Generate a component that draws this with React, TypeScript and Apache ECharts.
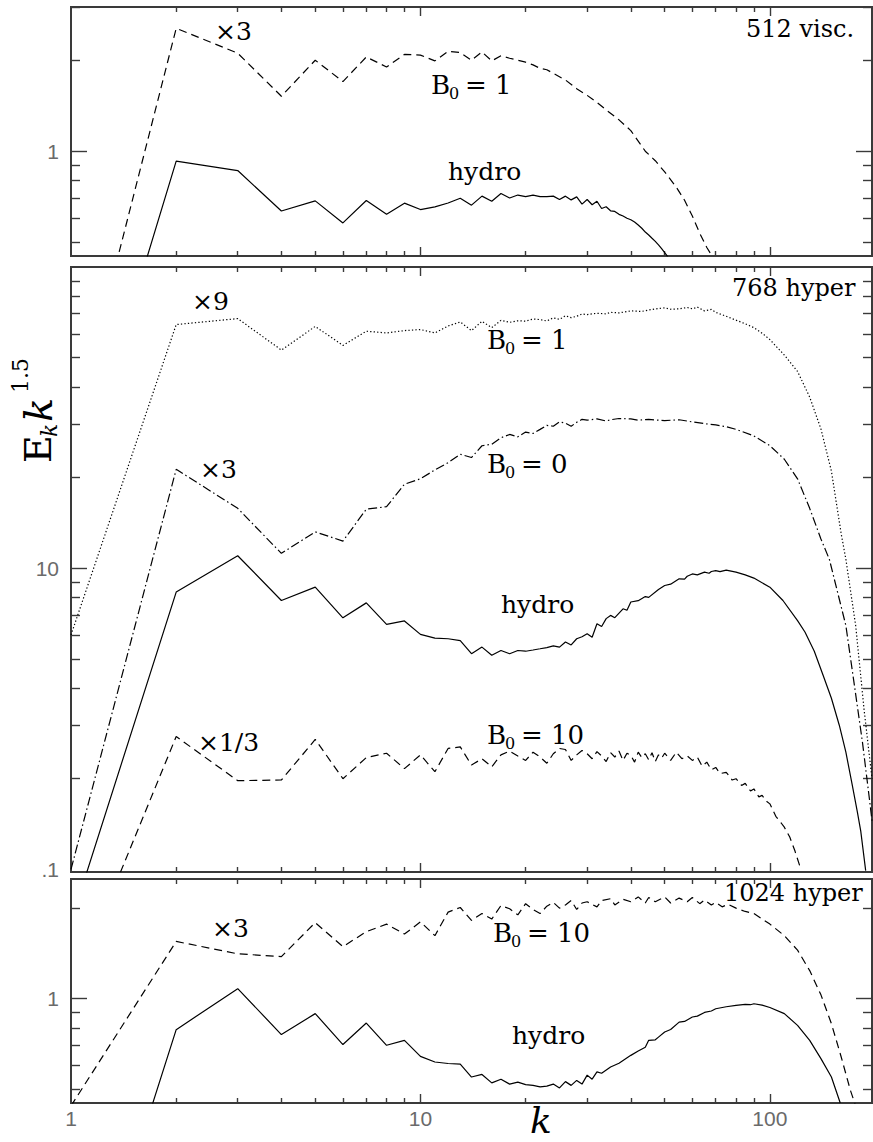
import React, { useEffect, useRef } from "react";
import * as echarts from "echarts";

// ---------- data (k, E_k k^1.5) ----------
// Panel 1: 512 visc.
const visc512_B1x3: [number, number][] = [
  [1, 0.11], [2, 2.55], [3, 2.11], [4, 1.52], [5, 2.0], [6, 1.7], [7, 2.05], [8, 1.9], [9, 2.09], [10, 2.08],
  [11, 1.99], [12, 2.14], [13, 2.12], [14, 2.0], [15, 2.13], [16, 1.99], [17, 2.07], [18, 2.03], [19, 2.0], [20, 1.97],
  [21, 1.93], [22, 1.88], [23, 1.86], [24, 1.81], [26, 1.72], [28, 1.61], [30, 1.53], [32, 1.45], [34, 1.37], [37, 1.27],
  [40, 1.17], [44, 1.0], [47, 0.93], [50, 0.854], [54, 0.76], [57, 0.688], [60, 0.61], [63, 0.535], [66, 0.48], [70, 0.43],
];
const visc512_hydro: [number, number][] = [
  [1, 0.066], [2, 0.927], [3, 0.863], [4, 0.634], [5, 0.685], [6, 0.579], [7, 0.687], [8, 0.618], [9, 0.673], [10, 0.641],
  [11, 0.654], [12, 0.674], [13, 0.699], [14, 0.663], [15, 0.71], [16, 0.683], [17, 0.724], [18, 0.7], [19, 0.716], [20, 0.707],
  [21, 0.716], [22, 0.707], [23, 0.707], [24, 0.71], [25, 0.692], [26, 0.71], [27, 0.69], [28, 0.706], [29, 0.668], [30, 0.692],
  [31, 0.665], [32, 0.683], [33, 0.646], [34, 0.655], [35, 0.635], [36, 0.632], [37, 0.618], [38, 0.61], [39, 0.6], [40, 0.593],
  [41, 0.583], [42, 0.57], [43, 0.556], [44, 0.54], [45, 0.528], [46, 0.515], [47, 0.503], [48, 0.49], [49, 0.476], [50, 0.462], [51, 0.448],
];

// Panel 2: 768 hyper
const hyper768_B1x9: [number, number][] = [
  [1, 6.0], [2, 64.4], [3, 67.4], [4, 53], [5, 63.5], [6, 54.9], [7, 61.2], [8, 60.4], [9, 61.5], [10, 62],
  [11, 60.4], [12, 63.7], [13, 65.7], [14, 61.5], [15, 66], [16, 62.9], [17, 66.5], [18, 65.5], [19, 66.3], [20, 66.1],
  [21, 67.2], [22, 66.9], [23, 66.2], [24, 67.8], [25, 67.0], [26, 68.9], [27, 67.9], [28, 68.6], [29, 69.8], [30, 69.5],
  [32, 70.2], [34, 69.9], [35, 70.7], [37, 70.4], [40, 71.5], [43, 71.2], [45, 72], [48, 72.8], [50, 73.2], [52, 72.4],
  [55, 72.6], [58, 73.4], [60, 72.6], [62, 73.6], [65, 71.5], [68, 72.3], [70, 70.7], [75, 68.6], [80, 66.6], [85, 64.8],
  [90, 62.9], [95, 60.3], [100, 57.4], [110, 51], [120, 45], [130, 37], [140, 29], [150, 21], [160, 13], [165, 10.7],
  [176, 6.45], [186, 3.4], [196, 2.0],
];
const hyper768_B0x3: [number, number][] = [
  [1, 1.0], [2, 21.3], [3, 15.8], [4, 11.2], [5, 13.2], [6, 12.3], [7, 15.7], [8, 16.0], [9, 19.0], [10, 19.8],
  [11, 21.2], [12, 22.4], [13, 23.9], [14, 23.3], [15, 25.5], [16, 25.8], [17, 27.1], [18, 27.8], [19, 27.3], [20, 28.3],
  [21, 28.0], [22, 28.9], [23, 29.8], [24, 29.6], [25, 30.6], [26, 30.3], [27, 29.6], [28, 30.5], [29, 31.2], [30, 31.0],
  [32, 31.3], [34, 30.8], [35, 31.1], [37, 31.4], [40, 31.3], [42, 31.0], [45, 31.2], [48, 31.0], [50, 30.9], [55, 31.1],
  [60, 30.6], [65, 30.2], [70, 29.9], [75, 29.5], [80, 28.9], [90, 27.5], [100, 25.5], [110, 23.0], [120, 19.8], [130, 15.8],
  [140, 12.5], [148, 10.7], [165, 6.45], [174.5, 4.09], [184, 2.65], [192.6, 1.72], [196, 1.45],
];
const hyper768_hydro: [number, number][] = [
  [1, 0.67], [2, 8.33], [3, 11.0], [4, 7.81], [5, 8.65], [6, 6.84], [7, 7.67], [8, 6.51], [9, 6.68], [10, 6.03],
  [11, 5.86], [12, 5.83], [13, 5.75], [14, 5.2], [15, 5.47], [16, 5.14], [17, 5.33], [18, 5.2], [19, 5.33], [20, 5.3],
  [21, 5.35], [22, 5.4], [23, 5.45], [24, 5.52], [25, 5.47], [26, 5.69], [27, 5.56], [28, 5.83], [29, 5.92], [30, 6.06],
  [31, 5.9], [32, 6.54], [33, 6.4], [34, 6.8], [35, 6.97], [36, 6.85], [38, 7.33], [39, 7.25], [40, 7.72], [42, 7.8],
  [44, 8.05], [45, 8.0], [48, 8.5], [50, 8.76], [52, 8.85], [55, 9.22], [57, 9.2], [58, 9.4], [60, 9.57], [62, 9.5],
  [65, 9.7], [67, 9.62], [68, 9.75], [70, 9.82], [72, 9.74], [75, 9.85], [80, 9.7], [85, 9.5], [90, 9.27], [100, 8.65],
  [109, 7.81], [120, 6.7], [126, 6.14], [134, 5.3], [142, 4.41], [150, 3.7], [158, 3.01], [165, 2.45], [172, 1.91],
  [178, 1.55], [182, 1.34], [188, 0.99],
];
const hyper768_B10x1_3: [number, number][] = [
  [1, 0.39], [2, 2.76], [3, 1.97], [4, 1.98], [5, 2.7], [6, 2.0], [7, 2.35], [8, 2.43], [9, 2.16], [10, 2.4],
  [11, 2.11], [12, 2.52], [13, 2.55], [14, 2.22], [15, 2.33], [16, 2.19], [17, 2.4], [18, 2.47], [19, 2.38], [20, 2.3],
  [21, 2.45], [22, 2.36], [23, 2.25], [24, 2.42], [25, 2.52], [26, 2.5], [27, 2.3], [28, 2.4], [29, 2.48], [30, 2.42],
  [31, 2.33], [32, 2.46], [33, 2.38], [34, 2.28], [35, 2.44], [36, 2.36], [37, 2.47], [38, 2.3], [39, 2.43], [40, 2.39],
  [41, 2.27], [42, 2.45], [43, 2.35], [44, 2.42], [45, 2.31], [46, 2.44], [47, 2.28], [48, 2.4], [49, 2.34], [50, 2.43],
  [52, 2.3], [54, 2.45], [56, 2.33], [58, 2.38], [60, 2.3], [62, 2.36], [64, 2.2], [66, 2.27], [68, 2.14], [70, 2.18],
  [72, 2.08], [75, 2.1], [78, 1.98], [80, 2.0], [83, 1.9], [85, 1.93], [88, 1.82], [90, 1.85], [93, 1.74], [95, 1.76],
  [98, 1.68], [100, 1.65], [104, 1.5], [108, 1.42], [110, 1.38], [114, 1.28], [118, 1.15], [122, 1.02],
];

// Panel 3: 1024 hyper
const hyper1024_B10x3: [number, number][] = [
  [1, 0.44], [2, 1.55], [3, 1.41], [4, 1.38], [5, 1.79], [6, 1.49], [7, 1.67], [8, 1.77], [9, 1.64], [10, 1.8],
  [11, 1.62], [12, 1.94], [13, 2.01], [14, 1.82], [15, 1.92], [16, 1.84], [17, 2.04], [18, 1.99], [19, 1.9], [20, 2.07],
  [21, 1.98], [22, 1.92], [23, 2.03], [24, 2.09], [25, 2.0], [26, 2.05], [27, 2.12], [28, 1.98], [29, 2.08], [30, 2.1],
  [32, 2.02], [33, 2.12], [35, 2.15], [36, 2.05], [38, 2.14], [40, 2.1], [42, 2.18], [44, 2.08], [45, 2.17], [47, 2.1],
  [50, 2.18], [52, 2.08], [55, 2.16], [58, 2.1], [60, 2.17], [63, 2.07], [65, 2.13], [68, 2.05], [70, 2.09], [73, 2.02],
  [76, 2.06], [80, 2.0], [85, 1.95], [90, 1.92], [95, 1.84], [100, 1.77], [110, 1.62], [120, 1.45], [130, 1.24], [140, 1.03],
  [150, 0.826], [160, 0.64], [170, 0.496], [176, 0.44],
];
const hyper1024_hydro: [number, number][] = [
  [1, 0.063], [2, 0.789], [3, 1.08], [4, 0.76], [5, 0.892], [6, 0.704], [7, 0.83], [8, 0.7], [9, 0.727], [10, 0.643],
  [11, 0.616], [12, 0.609], [13, 0.606], [14, 0.549], [15, 0.56], [16, 0.525], [17, 0.54], [18, 0.52], [19, 0.528], [20, 0.518],
  [21, 0.515], [22, 0.509], [23, 0.512], [24, 0.52], [25, 0.505], [26, 0.53], [27, 0.515], [28, 0.535], [29, 0.52], [30, 0.557],
  [31, 0.54], [32, 0.571], [33, 0.565], [35, 0.593], [37, 0.61], [40, 0.648], [42, 0.67], [44, 0.69], [45, 0.727], [47, 0.73],
  [48, 0.745], [50, 0.775], [52, 0.79], [55, 0.836], [57, 0.84], [60, 0.869], [62, 0.875], [65, 0.9], [68, 0.91], [70, 0.926],
  [75, 0.94], [80, 0.95], [85, 0.958], [88, 0.955], [90, 0.962], [95, 0.952], [100, 0.935],
  [110, 0.892], [120, 0.815], [130, 0.727], [140, 0.632], [150, 0.549], [159, 0.45],
];

// axis ticks / labels
const xMinorTicks = [2, 3, 4, 5, 6, 7, 8, 9, 20, 30, 40, 50, 60, 70, 80, 90];
const xMajorTicks = [10, 100];
const xTickLabels = [1, 10, 100];
const xRange = [1, 196];
const yRanges = [[0.45, 3], [0.98, 100], [0.45, 2.5]];
const yMinorTicks = [[0.5, 0.6, 0.7, 0.8, 0.9, 2, 3], [2, 3, 4, 5, 6, 7, 8, 9, 20, 30, 40, 50, 60, 70, 80, 90], [0.5, 0.6, 0.7, 0.8, 0.9, 2]];
const yMajorTicks = [[1], [10], [1]];
const yTickLabels = [[1], [10, 1], [1]];
const yLabelText: Record<string, string> = { "1": "1", "10": "10" };

const FRAME = "#3a3a3a";
const SERIF = "DejaVu Serif";
const SANS = "Liberation Sans";

export default function App() {
  const ref = useRef<HTMLDivElement>(null);
  useEffect(() => {
    if (!ref.current) return;
    const chart = echarts.init(ref.current, undefined, { renderer: "svg" });

    const grids = [
      { left: 71, top: 7, width: 801, height: 249 },
      { left: 71, top: 267, width: 801, height: 605 },
      { left: 71, top: 879, width: 801, height: 224 },
    ].map((g) => ({ ...g, show: true, borderColor: FRAME, borderWidth: 2, backgroundColor: "transparent" }));

    const tickLine = { color: FRAME, width: 1.4 };
    const xAxes: any[] = [];
    const yAxes: any[] = [];
    for (let g = 0; g < 3; g++) {
      for (const pos of ["bottom", "top"]) {
        for (const major of [false, true]) {
          const showLab = g === 2 && pos === "bottom" && major;
          xAxes.push({
            type: "log", logBase: 10, gridIndex: g, position: pos, min: xRange[0], max: xRange[1],
            axisLine: { show: false }, splitLine: { show: false },
            axisTick: { show: true, inside: true, length: major ? 9 : 5, lineStyle: tickLine, customValues: major ? xMajorTicks : xMinorTicks },
            axisLabel: showLab
              ? { show: true, customValues: xTickLabels, margin: 5, fontSize: 21, color: "#6a6a6a", fontFamily: SANS, formatter: (v: number) => String(Math.round(v)) }
              : { show: false },
          });
        }
      }
      for (const pos of ["left", "right"]) {
        for (const major of [false, true]) {
          const showLab = pos === "left" && major;
          yAxes.push({
            type: "log", logBase: 10, gridIndex: g, position: pos, min: yRanges[g][0], max: yRanges[g][1],
            axisLine: { show: false }, splitLine: { show: false },
            axisTick: { show: true, inside: true, length: major ? 16 : 9, lineStyle: tickLine, customValues: major ? yMajorTicks[g] : yMinorTicks[g] },
            axisLabel: showLab
              ? {
                  show: true, customValues: yTickLabels[g], margin: 12, fontSize: 21, color: "#6a6a6a", fontFamily: SANS,
                  formatter: (v: number) => (g === 1 && Math.abs(v - 1) < 1e-6 ? ".1" : yLabelText[String(Math.round(v))] ?? String(v)),
                }
              : { show: false },
          });
        }
      }
    }

    const line = (data: [number, number][], g: number, type: any) => ({
      type: "line", data, xAxisIndex: g * 4, yAxisIndex: g * 4, showSymbol: false, symbol: "none",
      silent: true, clip: true, lineStyle: { color: "#000", width: 1.2, type },
    });
    const DASH = [8, 5];
    const DOT = [1.3, 2.2];
    const DASHDOT = [9, 3, 1.5, 3];

    const txt = (text: string, x: number, y: number, size = 25, extra: any = {}) => ({
      type: "text", x, y, z: 10,
      style: { text, fontFamily: SERIF, fontSize: size, fill: "#000", align: "left", verticalAlign: "middle", ...extra },
    });
    // "B0 = n" label with a real subscript
    const bLabel = (val: string, x: number, y: number) => ({
      type: "group", x, y, z: 10,
      children: [
        { type: "text", x: 0, y: 0, style: { text: "B", fontFamily: SERIF, fontSize: 26, fill: "#000", verticalAlign: "middle" } },
        { type: "text", x: 18, y: 8, style: { text: "0", fontFamily: SERIF, fontSize: 16, fill: "#000", verticalAlign: "middle" } },
        { type: "text", x: 34, y: 0, style: { text: "= " + val, fontFamily: SERIF, fontSize: 26, fill: "#000", verticalAlign: "middle" } },
      ],
    });

    chart.setOption({
      animation: false,
      grid: grids,
      xAxis: xAxes,
      yAxis: yAxes,
      series: [
        line(visc512_B1x3, 0, DASH),
        line(visc512_hydro, 0, "solid"),
        line(hyper768_B1x9, 1, DOT),
        line(hyper768_B0x3, 1, DASHDOT),
        line(hyper768_hydro, 1, "solid"),
        line(hyper768_B10x1_3, 1, DASH),
        line(hyper1024_B10x3, 2, DASH),
        line(hyper1024_hydro, 2, "solid"),
      ],
      graphic: [
        txt("×3", 215, 31),
        bLabel("1", 431, 85),
        txt("hydro", 448, 171),
        txt("512 visc.", 746, 29, 24),
        txt("×9", 192, 301),
        txt("768 hyper", 732, 288, 24),
        bLabel("1", 487, 340),
        txt("×3", 200, 469),
        bLabel("0", 487, 464),
        txt("hydro", 501, 604),
        bLabel("10", 487, 735),
        txt("×1/3", 198, 742),
        txt("1024 hyper", 724, 893, 24),
        txt("×3", 212, 928),
        bLabel("10", 493, 933),
        txt("hydro", 512, 1035),
        txt("k", 541, 1120, 36, { fontStyle: "italic", align: "center" }),
        {
          type: "group", x: 38, y: 463, rotation: Math.PI / 2, z: 10,
          children: [
            { type: "text", x: 0, y: 0, style: { text: "E", fontFamily: SERIF, fontSize: 38, fill: "#000", verticalAlign: "middle" } },
            { type: "text", x: 26, y: 11, style: { text: "k", fontFamily: SERIF, fontStyle: "italic", fontSize: 22, fill: "#000", verticalAlign: "middle" } },
            { type: "text", x: 41, y: 0, style: { text: "k", fontFamily: SERIF, fontStyle: "italic", fontSize: 40, fill: "#000", verticalAlign: "middle" } },
            { type: "text", x: 70, y: -18, style: { text: "1.5", fontFamily: SERIF, fontSize: 22, fill: "#000", verticalAlign: "middle" } },
          ],
        },
      ],
    });
    return () => chart.dispose();
  }, []);
  return <div ref={ref} style={{ position: "absolute", left: 0, top: 0, width: 873, height: 1142, background: "#fff" }} />;
}
